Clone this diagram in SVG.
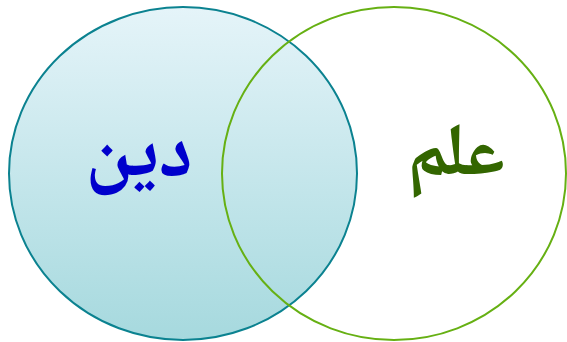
<svg xmlns="http://www.w3.org/2000/svg" width="567" height="342" viewBox="0 0 567 342">
  <defs>
    <linearGradient id="blueFill" x1="0" y1="0" x2="0" y2="1">
      <stop offset="0" stop-color="#e5f4f9"/>
      <stop offset="1" stop-color="#a6d9de"/>
    </linearGradient>
    <style>
      .lbl { font-family: "Noto Naskh Arabic", "Noto Sans Arabic", "DejaVu Sans", sans-serif; font-weight: bold; font-size: 78px; text-anchor: middle; }
    </style>
  </defs>
  <rect width="567" height="342" fill="#ffffff"/>
  <g id="science-bg">
    <ellipse cx="394" cy="173.5" rx="172" ry="166.5" fill="#ffffff" stroke="none"/>
  </g>
  <g id="religion">
    <ellipse cx="183" cy="173.5" rx="174" ry="166.5" fill="url(#blueFill)" stroke="#0b8290" stroke-width="2"/>
    <text class="lbl" x="139" y="176" fill="#0000cc">دين</text>
  </g>
  <g id="science">
    <ellipse cx="394" cy="173.5" rx="172" ry="166.5" fill="none" stroke="#66b013" stroke-width="2"/>
    <text class="lbl" x="456" y="175" fill="#336600" style="font-size:74px">علم</text>
  </g>
</svg>
